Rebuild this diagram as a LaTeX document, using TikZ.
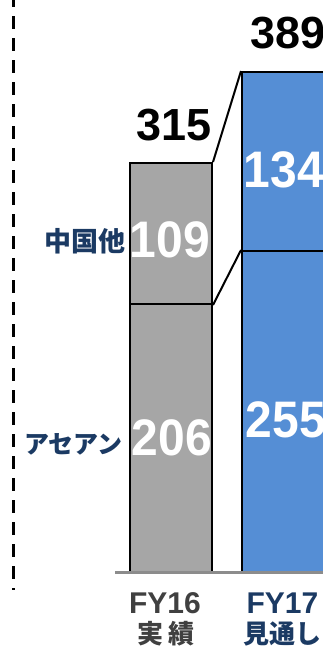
\documentclass[tikz,border=0pt]{standalone}
\usepackage{graphicx}
\usepackage{fontspec}
\newfontfamily\numfont{Liberation Sans}
\newfontfamily\jpfont{Noto Sans CJK JP}
\definecolor{barGray}{HTML}{A6A6A6}
\definecolor{barBlue}{HTML}{558ED5}
\definecolor{navy}{HTML}{1B3A63}
\definecolor{darkGray}{HTML}{404040}
\definecolor{axisGray}{HTML}{8C8C8C}
\newcommand{\tallnum}[1]{\scalebox{1}[1.07]{#1}}
\tikzset{
  seg/.style={draw=black, line width=2pt, inner sep=0pt, rectangle},
  graySeg/.style={seg, fill=barGray},
  blueSeg/.style={seg, fill=barBlue},
  link/.style={draw=black, line width=2pt},
  total/.style={inner sep=0pt, anchor=base, font=\numfont\bfseries\fontsize{45pt}{45pt}\selectfont, text=black},
  inval/.style={inner sep=0pt, anchor=base, font=\numfont\bfseries\fontsize{48pt}{48pt}\selectfont, text=white},
  region/.style={inner sep=0pt, anchor=base, font=\jpfont\bfseries\fontsize{27pt}{27pt}\selectfont, text=navy},
  yearlab/.style={inner sep=0pt, anchor=base, font=\numfont\bfseries\fontsize{30pt}{30pt}\selectfont},
  kindlab/.style={inner sep=0pt, anchor=base, font=\jpfont\bfseries\fontsize{26pt}{26pt}\selectfont},
}
\begin{document}
\begin{tikzpicture}[x=1pt, y=-1pt]
\useasboundingbox (0,0) rectangle (323,651);
% dashed separator
\coordinate (dtop) at (13,0);
\coordinate (dbot) at (13,590);
\draw[line width=3pt, dash pattern=on 13pt off 9pt, dash phase=6pt] (dtop) -- (dbot);
% axis
\coordinate (axL) at (115,572);
\coordinate (axR) at (330,572);
% bars
\node[graySeg, minimum width=82pt, minimum height=141pt] (gTop) at (171,233.5) {};
\node[graySeg, minimum width=82pt, minimum height=268pt] (gBot) at (171,438) {};
\node[blueSeg, minimum width=84pt, minimum height=179pt] (bTop) at (284,161.5) {};
\node[blueSeg, minimum width=84pt, minimum height=321pt] (bBot) at (284,411.5) {};
\draw[axisGray, line width=3pt] (axL) -- (axR);
% connectors
\draw[link] (gTop.north east) -- (bTop.north west);
\draw[link] (gTop.south east) -- (bBot.north west);
% totals
\node[total] (t16) at (174,140) {315};
\node[total] (t17) at (288,48) {389};
% values
\node[inval] (v109) at (170,257) {\tallnum{109}};
\node[inval] (v206) at (172,455) {\tallnum{206}};
\node[inval] (v134) at (284,187) {\tallnum{134}};
\node[inval] (v255) at (286,437) {\tallnum{255}};
% region labels
\node[region] (rChina) at (85.5,251) {中国他};
\node[region, font=\jpfont\bfseries\fontsize{25pt}{25pt}\selectfont] (rAsean) at (73.5,453) {アセアン};
% axis labels
\node[yearlab, text=darkGray] (y16) at (165,613) {FY16};
\node[yearlab, text=navy] (y17) at (282.5,613) {FY17};
\node[kindlab, text=darkGray] (k16) at (166,643) {実\,績};
\node[kindlab, text=navy] (k17) at (282,643) {見通し};
\end{tikzpicture}
\end{document}
